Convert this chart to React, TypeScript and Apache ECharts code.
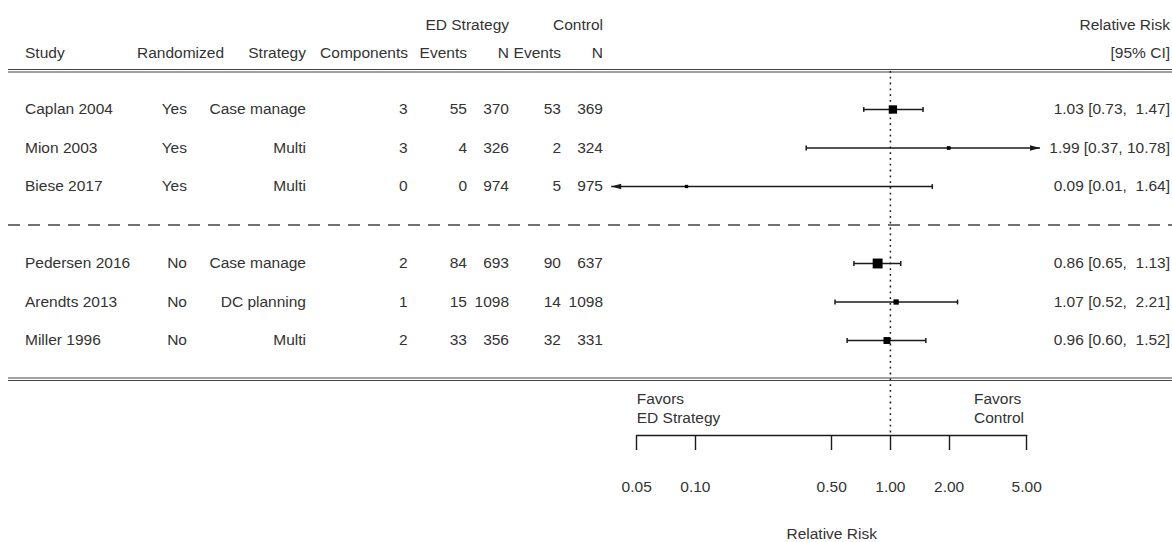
import React, { useEffect, useRef } from "react";
import * as echarts from "echarts";

// ---------- data ----------
const studies = ["Caplan 2004", "Mion 2003", "Biese 2017", "Pedersen 2016", "Arendts 2013", "Miller 1996"];
const randomized = ["Yes", "Yes", "Yes", "No", "No", "No"];
const strategy = ["Case manage", "Multi", "Multi", "Case manage", "DC planning", "Multi"];
const components = [3, 3, 0, 2, 1, 2];
const edEvents = [55, 4, 0, 84, 15, 33];
const edN = [370, 326, 974, 693, 1098, 356];
const ctlEvents = [53, 2, 5, 90, 14, 32];
const ctlN = [369, 324, 975, 637, 1098, 331];
const rr = [1.03, 1.99, 0.09, 0.86, 1.07, 0.96];
const ciLow = [0.73, 0.37, 0.01, 0.65, 0.52, 0.6];
const ciHigh = [1.47, 10.78, 1.64, 1.13, 2.21, 1.52];
const axisTicks = [0.05, 0.1, 0.5, 1, 2, 5];
const plotLimits = [0.037, 5.85]; // CI lines beyond these are drawn as arrows

// ---------- derived ----------
const rowIndex: number[] = [];
{
  let r = 0;
  studies.forEach((_, i) => {
    if (i > 0 && randomized[i] !== randomized[i - 1]) r++;
    rowIndex.push(r);
    r++;
  });
}
const ciText = rr.map(
  (v, i) => `${v.toFixed(2)} [${ciLow[i].toFixed(2)}, ${ciHigh[i].toFixed(2).padStart(5, " ")}]`
);
// metafor-like box sizes from precision
const precision = ciLow.map((lo, i) => 3.92 / (Math.log(ciHigh[i]) - Math.log(lo)));
const pMin = Math.min(...precision);
const pMax = Math.max(...precision);
const boxSize = precision.map((w) => 6.6 * (0.5 + (w - pMin) / (pMax - pMin)));

// ---------- styles ----------
const FONT = '15.5px "Liberation Sans", Arial, Helvetica, sans-serif';
const INK = "#333";
const STROKE = "#1a1a1a";

const txt = (text: string, x: number, y: number, align: string) => ({
  type: "text",
  x,
  y,
  silent: true,
  style: {
    text,
    font: FONT,
    fill: INK,
    align,
    textAlign: align,
    verticalAlign: "middle",
    textVerticalAlign: "middle",
  },
});

const hline = (y: number, dash?: number[], color = "#444", width = 1.2) => ({
  type: "line",
  silent: true,
  shape: { x1: 8, y1: y, x2: 1172, y2: y },
  style: { stroke: color, lineWidth: width, lineDash: dash },
});

const columns: { x: number; align: string; get: (i: number) => string }[] = [
  { x: 25, align: "left", get: (i) => studies[i] },
  { x: 187, align: "right", get: (i) => randomized[i] },
  { x: 306, align: "right", get: (i) => strategy[i] },
  { x: 407.5, align: "right", get: (i) => String(components[i]) },
  { x: 467, align: "right", get: (i) => String(edEvents[i]) },
  { x: 509, align: "right", get: (i) => String(edN[i]) },
  { x: 561, align: "right", get: (i) => String(ctlEvents[i]) },
  { x: 603, align: "right", get: (i) => String(ctlN[i]) },
  { x: 1170, align: "right", get: (i) => ciText[i] },
];

function buildOption(): any {
  const gridLeft = 636.7;
  const gridWidth = 390;
  return {
    animation: false,
    backgroundColor: "#fff",
    grid: [
      { left: gridLeft, width: gridWidth, top: 71, height: 308, outerBoundsMode: "none", containLabel: false },
      { left: gridLeft, width: gridWidth, top: 71, height: 364, outerBoundsMode: "none", containLabel: false },
    ],
    xAxis: [
      {
        type: "log",
        logBase: 10,
        gridIndex: 0,
        min: axisTicks[0],
        max: axisTicks[axisTicks.length - 1],
        show: false,
      },
      {
        type: "log",
        logBase: 10,
        gridIndex: 1,
        min: axisTicks[0],
        max: axisTicks[axisTicks.length - 1],
        position: "bottom",
        name: "Relative Risk",
        nameLocation: "middle",
        nameGap: 90,
        nameTextStyle: { fontFamily: "Liberation Sans", fontSize: 15.5, color: INK },
        axisLine: { show: true, lineStyle: { color: STROKE, width: 1.4 } },
        axisTick: {
          show: true,
          inside: false,
          length: 15,
          customValues: axisTicks,
          lineStyle: { color: STROKE, width: 1.4 },
        },
        axisLabel: {
          show: true,
          customValues: axisTicks,
          margin: 43,
          formatter: (v: number) => v.toFixed(2),
          fontFamily: "Liberation Sans",
          fontSize: 15.5,
          color: INK,
        },
        splitLine: { show: false },
        minorTick: { show: false },
      },
    ],
    yAxis: [
      { type: "value", gridIndex: 0, min: -1, max: 7, inverse: true, show: false },
      { type: "value", gridIndex: 1, min: 0, max: 1, show: false },
    ],
    graphic: [
      hline(69.5),
      hline(72),
      hline(378),
      hline(380.5),
      hline(225, [12, 8], "#444", 1.4),
      txt("ED Strategy", 509, 24, "right"),
      txt("Control", 603, 24, "right"),
      txt("Relative Risk", 1170, 24, "right"),
      txt("Study", 25, 52, "left"),
      txt("Randomized", 137, 52, "left"),
      txt("Strategy", 306, 52, "right"),
      txt("Components", 408, 52, "right"),
      txt("Events", 467, 52, "right"),
      txt("N", 509, 52, "right"),
      txt("Events", 561, 52, "right"),
      txt("N", 603, 52, "right"),
      txt("[95% CI]", 1170, 52, "right"),
      txt("Favors", 636.7, 398, "left"),
      txt("ED Strategy", 636.7, 417, "left"),
      txt("Favors", 974, 398, "left"),
      txt("Control", 974, 417, "left"),
    ],
    series: [
      {
        type: "custom",
        name: "reference",
        xAxisIndex: 1,
        yAxisIndex: 1,
        clip: false,
        silent: true,
        data: [[1, 0]],
        encode: { x: 0, y: 1 },
        renderItem: (_p: any, api: any) => {
          const x = api.coord([api.value(0), 0])[0];
          const yBot = api.coord([api.value(0), 0])[1];
          const yTop = api.coord([api.value(0), 1])[1];
          return {
            type: "line",
            shape: { x1: x, y1: yTop, x2: x, y2: yBot },
            style: { stroke: STROKE, lineWidth: 1.5, lineDash: [1.8, 4] },
          };
        },
      },
      {
        type: "custom",
        name: "table",
        xAxisIndex: 0,
        yAxisIndex: 0,
        clip: false,
        silent: true,
        data: studies.map((_, i) => [1, rowIndex[i], i]),
        encode: { x: 0, y: 1 },
        renderItem: (_p: any, api: any) => {
          const i = api.value(2);
          const y = api.coord([1, api.value(1)])[1] - 1;
          return {
            type: "group",
            children: columns.map((c) => txt(c.get(i), c.x, y, c.align)),
          };
        },
      },
      {
        type: "custom",
        name: "forest",
        xAxisIndex: 0,
        yAxisIndex: 0,
        clip: false,
        silent: true,
        data: rr.map((v, i) => [v, rowIndex[i], ciLow[i], ciHigh[i], i]),
        encode: { x: 0, y: 1 },
        renderItem: (_p: any, api: any) => {
          const est = api.value(0);
          const row = api.value(1);
          const lo = api.value(2);
          const hi = api.value(3);
          const i = api.value(4);
          const y = api.coord([est, row])[1];
          const lo2 = Math.max(lo, plotLimits[0]);
          const hi2 = Math.min(hi, plotLimits[1]);
          const xl = api.coord([lo2, row])[0];
          const xh = api.coord([hi2, row])[0];
          const xe = api.coord([est, row])[0];
          const s = boxSize[i];
          const st = { stroke: STROKE, lineWidth: 1.5 };
          const children: any[] = [
            { type: "line", shape: { x1: xl, y1: y, x2: xh, y2: y }, style: st },
          ];
          if (lo < plotLimits[0]) {
            children.push({
              type: "polygon",
              shape: { points: [[xl, y], [xl + 10, y - 2.8], [xl + 10, y + 2.8]] },
              style: { fill: STROKE },
            });
          } else {
            children.push({ type: "line", shape: { x1: xl, y1: y - 2.4, x2: xl, y2: y + 2.4 }, style: st });
          }
          if (hi > plotLimits[1]) {
            children.push({
              type: "polygon",
              shape: { points: [[xh, y], [xh - 10, y - 2.8], [xh - 10, y + 2.8]] },
              style: { fill: STROKE },
            });
          } else {
            children.push({ type: "line", shape: { x1: xh, y1: y - 2.4, x2: xh, y2: y + 2.4 }, style: st });
          }
          children.push({
            type: "rect",
            shape: { x: xe - s / 2, y: y - s / 2, width: s, height: s },
            style: { fill: "#000" },
          });
          return { type: "group", children };
        },
      },
    ],
  };
}

export default function App() {
  const ref = useRef<HTMLDivElement>(null);
  useEffect(() => {
    if (!ref.current) return;
    const chart = echarts.init(ref.current, null, { renderer: "svg" });
    chart.setOption(buildOption());
    return () => chart.dispose();
  }, []);
  return (
    <div
      ref={ref}
      style={{ position: "fixed", left: 0, top: 0, width: 1172, height: 542, background: "#fff" }}
    />
  );
}
